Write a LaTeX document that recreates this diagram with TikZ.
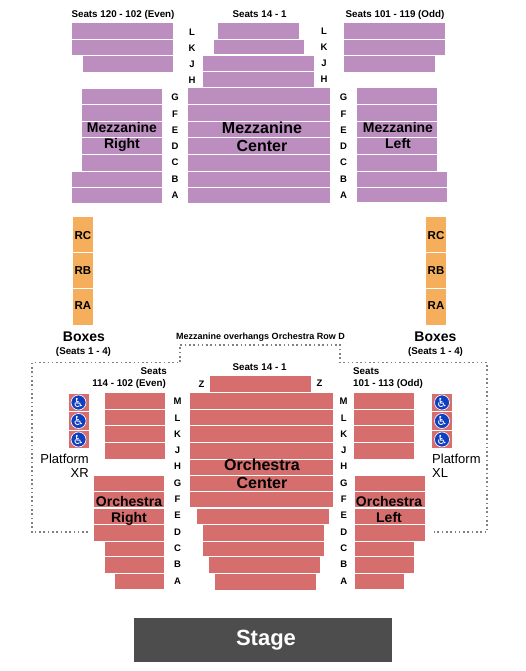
\documentclass[tikz,border=0pt]{standalone}
\usepackage{fontspec}
\setmainfont{Liberation Sans}
\newfontfamily\wheelfont{DejaVu Sans}
\definecolor{mezzcolor}{HTML}{BB8EBF}
\definecolor{orchcolor}{HTML}{D66E6E}
\definecolor{boxcolor}{HTML}{F5AF5C}
\definecolor{stagecolor}{HTML}{4D4D4D}
\definecolor{wheelblue}{HTML}{0F3FC0}

\begin{document}
\begin{tikzpicture}[
    x=1pt, y=-1pt,
    mezz/.style={fill=mezzcolor},
    orch/.style={fill=orchcolor},
    boxrow/.style={fill=boxcolor},
    rowlabel/.style={font=\fontsize{9.5}{10}\selectfont\bfseries, inner sep=0pt},
    seatlabel/.style={font=\fontsize{9.8}{11}\selectfont\bfseries, inner sep=0pt},
    section/.style={font=\fontsize{14}{16}\selectfont\bfseries, align=center, inner sep=0pt},
    bigsection/.style={font=\fontsize{16}{18}\selectfont\bfseries, align=center, inner sep=0pt},
    boxlabel/.style={font=\fontsize{11.5}{13}\selectfont\bfseries, inner sep=0pt},
    platform/.style={font=\fontsize{13}{14}\selectfont, inner sep=0pt, align=left},
    wheel/.style={circle, fill=wheelblue, draw=white, line width=0.6pt, inner sep=0pt, minimum size=15pt, text=white, font=\wheelfont\fontsize{12.5}{12.5}\selectfont}
]

    % Fix the page size
    \useasboundingbox (0,0) rectangle (525,671);

    % Mezzanine seat rows
    \foreach \xa/\xb/\ya/\yb in {72/173/23/39, 72/173/40/55, 83/173/56/72,
        82/162/89/104, 82/162/105/121, 82/162/122/137, 82/162/138/154, 82/162/155/171, 72/162/172/187, 72/162/188/203,
        218/299/23/39, 214/304/40/54, 203/314/56/71, 203/314/72/87,
        188/330/88/104, 188/330/105/121, 188/330/122/137, 188/330/138/154, 188/330/155/171, 188/330/172/187, 188/330/188/203,
        344/445/23/39, 344/445/40/55, 344/435/56/72,
        357/437/88/104, 357/437/105/121, 357/437/122/137, 357/437/138/154, 357/437/155/171, 357/447/172/187, 357/447/188/202}
        \fill[mezz] (\xa,\ya) rectangle (\xb,\yb);

    % Orchestra seat rows
    \foreach \xa/\xb/\ya/\yb in {210/311/376/392,
        190/333/393/409, 190/333/410/425, 190/333/426/442, 190/333/443/459, 190/333/460/475, 190/333/476/491, 190/333/492/507,
        197/329/509/524, 203/324/525/541, 203/324/542/556, 209/320/557/573, 215/316/574/590,
        105/165/393/409, 105/165/410/425, 105/165/426/442, 105/165/443/459,
        94/164/476/491, 94/164/492/507, 94/164/509/524, 94/164/525/541, 105/164/542/556, 105/164/557/573, 115/164/574/589,
        354/414/393/409, 354/414/410/425, 354/414/426/442, 354/414/443/459,
        355/425/476/491, 355/425/492/507, 355/425/509/524, 355/425/525/541, 355/414/542/556, 355/414/557/573, 355/404/574/589}
        \fill[orch] (\xa,\ya) rectangle (\xb,\yb);

    % Boxes on both sides
    \foreach \boxname/\ya/\yb/\yc in {RC/217/252/235.5, RB/253/288/271, RA/289/325/306} {
        \fill[boxrow] (73,\ya) rectangle (93,\yb);
        \fill[boxrow] (426,\ya) rectangle (446,\yb);
        \node[boxlabel] (left\boxname) at (83,\yc) {\boxname};
        \node[boxlabel] (right\boxname) at (436,\yc) {\boxname};
    }

    % Wheelchair platforms
    \foreach \ya/\yb/\yc in {394/411/402.5, 412/430/421, 431/448/439.5} {
        \fill[orch] (69,\ya) rectangle (89,\yb);
        \fill[orch] (432,\ya) rectangle (452,\yb);
        \node[wheel] (wheelXR\ya) at (78.5,\yc) {♿};
        \node[wheel] (wheelXL\ya) at (442,\yc) {♿};
    }

    % Row letters
    \foreach \rowname/\ya/\yb in {L/32/31, K/48/47, J/64/63, H/80/79} {
        \node[rowlabel] (mezzUpL\rowname) at (192,\ya) {\rowname};
        \node[rowlabel] (mezzUpR\rowname) at (324,\yb) {\rowname};
    }
    \foreach \rowname/\ya in {G/97.5, F/114.5, E/130.5, D/146.5, C/162.5, B/179.5, A/195.5} {
        \node[rowlabel] (mezzL\rowname) at (175,\ya) {\rowname};
        \node[rowlabel] (mezzR\rowname) at (343.5,\ya) {\rowname};
    }
    \foreach \rowname/\ya in {M/401.5, L/418.5, K/434.5, J/450.5, H/466.5, G/483.5, F/499.5, E/515.5, D/532.5, C/548.5, B/564.5, A/581.5} {
        \node[rowlabel] (orchL\rowname) at (177.5,\ya) {\rowname};
        \node[rowlabel] (orchR\rowname) at (343.7,\ya) {\rowname};
    }
    \node[rowlabel] (orchZL) at (201.5,384) {Z};
    \node[rowlabel] (orchZR) at (319.5,383) {Z};

    % Seat numbers
    \node[seatlabel] (seatsMR) at (123,14.7) {Seats 120 - 102 (Even)};
    \node[seatlabel] (seatsMC) at (259.5,14) {Seats 14 - 1};
    \node[seatlabel] (seatsML) at (395,14.7) {Seats 101 - 119 (Odd)};
    \node[seatlabel] (seatsOC) at (259.5,367.5) {Seats 14 - 1};
    \node[seatlabel, anchor=east] (seatsOR) at (167,371.5) {Seats};
    \node[seatlabel, anchor=east] (seatsORn) at (166,384.3) {114 - 102 (Even)};
    \node[seatlabel, anchor=west] (seatsOL) at (353,371.5) {Seats};
    \node[seatlabel, anchor=west] (seatsOLn) at (353,384.3) {101 - 113 (Odd)};

    % Section names
    \node[section] (mezzRight) at (122,137) {Mezzanine\\Right};
    \node[bigsection] (mezzCenter) at (262,137) {Mezzanine\\Center};
    \node[section] (mezzLeft) at (398,135) {Mezzanine\\Left};
    \node[bigsection] (orchCenter) at (262,474) {Orchestra\\Center};
    \node[section] (orchRight) at (129,511) {Orchestra\\Right};
    \node[section] (orchLeft) at (389,509) {Orchestra\\Left};

    \node[section] (boxesL) at (84,337) {Boxes};
    \node[seatlabel] (boxesLs) at (83.5,351.7) {(Seats 1 - 4)};
    \node[section] (boxesR) at (435.5,337) {Boxes};
    \node[seatlabel] (boxesRs) at (435.5,351.7) {(Seats 1 - 4)};

    \node[platform, align=right, anchor=east] (platXR) at (89,465.5) {Platform\\XR};
    \node[platform, anchor=west] (platXL) at (432,465.5) {Platform\\XL};

    % Overhang outline
    \node[seatlabel, font=\fontsize{9}{10}\selectfont\bfseries] (overhang) at (260.5,336.7) {Mezzanine overhangs Orchestra Row D};
    \draw[gray, line width=1.5pt, dash pattern=on 1.6pt off 2.7pt]
        (88,532) -- (32,532) -- (32,362.7) -- (180,362.7) -- (180,345) -- (340,345) -- (340,362.7) -- (487,362.7) -- (487,532) -- (434,532);

    % Stage
    \fill[stagecolor] (134,618) rectangle (392,662);
    \node[text=white, font=\fontsize{22}{24}\selectfont\bfseries, inner sep=0pt] (stage) at (266,640) {Stage};

\end{tikzpicture}
\end{document}
